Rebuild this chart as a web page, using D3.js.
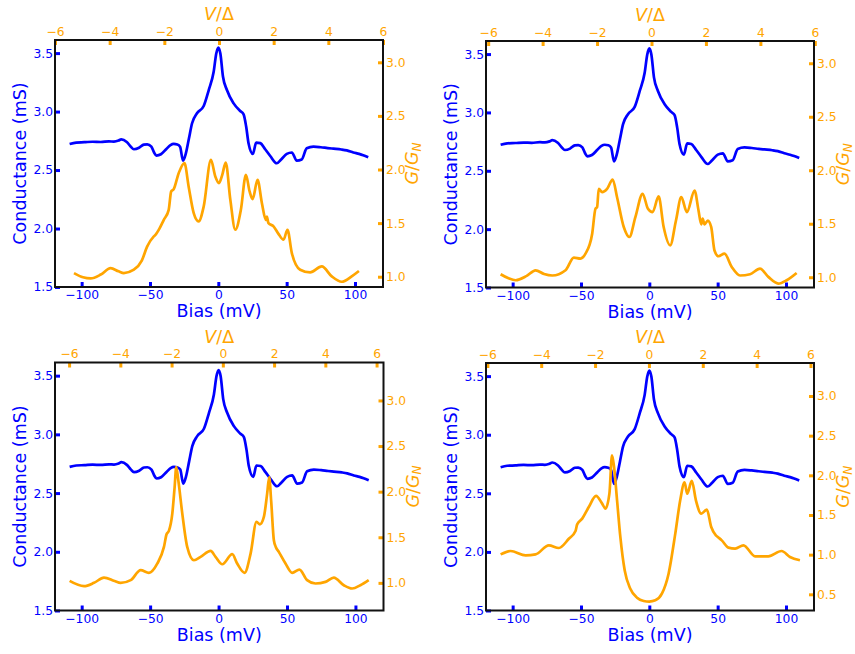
<!DOCTYPE html>
<html><head><meta charset="utf-8">
<script src="https://cdn.jsdelivr.net/npm/d3@7"></script>
<style>
body{margin:0;background:#fff;}
text{font-family:"DejaVu Sans",sans-serif;}
</style></head>
<body><svg id="c" width="855" height="654"></svg>
<script>
// ---------- data ----------
const biasTicks = [-100, -50, 0, 50, 100];
const condTicks = [1.5, 2.0, 2.5, 3.0, 3.5];
const vdTicks = [-6, -4, -2, 0, 2, 4, 6];
const gnTicksTop = [1.0, 1.5, 2.0, 2.5, 3.0];
const gnTicksLow = [1.0, 1.5, 2.0, 2.5, 3.0];
const gnTicksGap = [0.5, 1.0, 1.5, 2.0, 2.5, 3.0];

// measured conductance (mS) vs bias (mV), same in all panels
const blueBias = [-108.8,-104,-98,-92,-86,-80,-76.4,-73,-71,-67,-64,-61.8,-58,-54.5,-52,-49,-47,-45.3,-42,-38,-35,-32.6,-30,-28,-25.8,-23.8,-21.5,-19.2,-15.6,-10.7,-7,-3.4,-1.5,0,1.5,3.4,6.3,11.2,16,18.5,20.4,22.1,25.3,27.7,30.7,34.3,38,42.8,46,50.1,53.8,57.4,61,64.7,69.6,75,80,84.2,90,94,98.8,103,106,109.7];
const blueCond = [2.723,2.735,2.738,2.742,2.740,2.745,2.743,2.752,2.763,2.74,2.70,2.678,2.69,2.718,2.72,2.70,2.65,2.624,2.635,2.68,2.713,2.723,2.718,2.70,2.58,2.64,2.77,2.90,2.985,3.048,3.184,3.34,3.497,3.548,3.497,3.30,3.184,3.07,3.005,2.977,2.87,2.73,2.638,2.735,2.73,2.678,2.62,2.558,2.59,2.638,2.65,2.58,2.59,2.686,2.70,2.695,2.688,2.683,2.676,2.668,2.65,2.638,2.627,2.61];

// normalized conductance G/GN per panel
const orange1Bias = [-105.6,-99,-93.4,-86,-78.8,-73,-69.1,-61.8,-56,-52.1,-47.2,-46,-43,-39.9,-36.3,-34.5,-32.6,-29,-24.8,-21.7,-18,-14.4,-10.7,-5.4,-2.2,0.5,2.9,5.4,8.8,12.4,16.5,20.2,22.9,25.1,28.7,31.9,34.8,35.5,36.7,40.4,44,47.7,50.6,53.8,59.9,67.2,75.7,83,90.3,97.6,102.9];
const orange1G = [1.034,0.995,0.984,1.02,1.08,1.05,1.034,1.065,1.15,1.28,1.376,1.39,1.45,1.53,1.624,1.795,1.817,1.966,2.06,1.84,1.593,1.516,1.655,2.09,1.935,1.873,1.95,2.065,1.717,1.438,1.624,1.95,1.795,1.724,1.904,1.686,1.53,1.56,1.50,1.47,1.40,1.345,1.438,1.22,1.065,1.04,1.096,1.003,0.953,1.003,1.053];

const orange2Bias = [-108.8,-103,-97.8,-90,-83.2,-77,-71,-61.3,-55.2,-50.4,-46.7,-41.8,-39.4,-38.2,-37,-34.5,-30.9,-26.8,-23.6,-18.7,-14.6,-10.2,-4.9,-1,2.4,6.8,10.5,15.3,19.5,23.4,27.5,33.1,36,38,39,40.4,42.8,45.3,47.7,50.6,55,60.3,66.4,73.7,81,87.1,94.4,100.5,107.8];
const orange2G = [1.028,0.99,0.972,1.01,1.065,1.03,1.016,1.065,1.183,1.174,1.22,1.407,1.64,1.655,1.826,1.795,1.826,1.913,1.748,1.469,1.376,1.562,1.78,1.64,1.609,1.755,1.469,1.298,1.53,1.748,1.609,1.81,1.624,1.494,1.547,1.494,1.53,1.469,1.25,1.196,1.22,1.096,1.016,1.028,1.08,1.003,0.941,0.972,1.04];

const orange3Bias = [-108.8,-98.3,-91,-83.7,-76,-71.5,-64.2,-56.9,-50.9,-44.8,-39.9,-38,-36.3,-33.8,-32.1,-30.9,-29.4,-26.5,-22.9,-18,-13.1,-5.8,-2.2,2.7,10,13.6,19,23.4,27.7,30.2,33.1,35.5,37,38.4,40.4,41.8,44,48.9,53.8,59.1,64.7,70.8,78.1,84.2,91.5,97.6,103.6,109.7];
const orange3G = [1.022,0.964,1.0,1.058,1.02,1.0,1.03,1.139,1.11,1.21,1.394,1.533,1.57,1.759,2.05,2.27,2.124,1.759,1.394,1.248,1.285,1.35,1.285,1.204,1.314,1.212,1.11,1.321,1.668,1.642,1.723,1.978,2.16,1.905,1.467,1.394,1.34,1.212,1.11,1.146,1.03,0.993,1.011,1.058,0.974,0.938,0.974,1.03];

const orange4Bias = [-108.8,-101.5,-90.5,-83.2,-73.5,-66.2,-58.9,-54,-52.8,-49.1,-44.3,-39,-34.5,-32.1,-29.2,-27.3,-25.8,-23.6,-21.2,-18,-13.9,-9,-4.1,0,4.4,9.2,14.1,19,22.6,25.8,27.7,31.1,34.1,38,42.1,45.3,48.7,50.1,53,57.9,62.8,68.9,77.4,87.1,96.8,102.9,110.2];
const orange4G = [1.004,1.046,0.992,1.004,1.118,1.084,1.2,1.298,1.382,1.454,1.60,1.74,1.643,1.58,1.769,2.252,2.105,1.685,1.223,0.80,0.571,0.458,0.416,0.408,0.424,0.508,0.76,1.265,1.685,1.912,1.769,1.929,1.685,1.517,1.567,1.349,1.244,1.223,1.18,1.088,1.076,1.118,0.979,0.979,1.046,0.971,0.929];

// ---------- drawing ----------
const BLUE = "#0000ff", ORANGE = "#ffa500";
const svg = d3.select("#c");
const fmt1 = d3.format(".1f");
const fmt0 = d3.format("d");

const panels = [
  {box:[55,383,40,287],   vd:[-6,6],      gn:[0.904,3.208], gnTicks:gnTicksTop, ob:orange1Bias, og:orange1G},
  {box:[486,814,41,287.5],vd:[-6.08,5.97],gn:[0.904,3.208], gnTicks:gnTicksTop, ob:orange2Bias, og:orange2G},
  {box:[55,383.5,362.5,610.5], vd:[-6.55,6.27], gn:[0.697,3.416], gnTicks:gnTicksLow, ob:orange3Bias, og:orange3G},
  {box:[486,814,363,610.5], vd:[-6.05,6.13], gn:[0.296,3.416], gnTicks:gnTicksGap, ob:orange4Bias, og:orange4G}
];

function styleAxis(g, color){
  g.select(".domain").remove();
  g.selectAll(".tick line").attr("stroke", color).attr("stroke-width", 3);
  g.selectAll(".tick text").attr("fill", color).attr("font-size", 12.3)
    .attr("font-family", "DejaVu Sans");
}

panels.forEach(p => {
  const [x0,x1,y0,y1] = p.box;
  const x = d3.scaleLinear().domain([-119.5,120.5]).range([x0,x1]);
  const xt = d3.scaleLinear().domain(p.vd).range([x0,x1]);
  const y = d3.scaleLinear().domain([1.5,3.612]).range([y1,y0]);
  const yr = d3.scaleLinear().domain(p.gn).range([y1,y0]);
  const g = svg.append("g");

  // axes
  const gb = g.append("g").attr("transform",`translate(0,${y1})`)
    .call(d3.axisBottom(x).tickValues(biasTicks).tickFormat(fmt0).tickSizeInner(-5).tickSizeOuter(0).tickPadding(3.5));
  styleAxis(gb, BLUE);
  const gl = g.append("g").attr("transform",`translate(${x0},0)`)
    .call(d3.axisLeft(y).tickValues(condTicks).tickFormat(fmt1).tickSizeInner(-5).tickSizeOuter(0).tickPadding(2));
  styleAxis(gl, BLUE);
  const gt = g.append("g").attr("transform",`translate(0,${y0})`)
    .call(d3.axisTop(xt).tickValues(vdTicks).tickFormat(fmt0).tickSizeInner(-5).tickSizeOuter(0).tickPadding(4.5));
  styleAxis(gt, ORANGE);
  const gr = g.append("g").attr("transform",`translate(${x1},0)`)
    .call(d3.axisRight(yr).tickValues(p.gnTicks).tickFormat(fmt1).tickSizeInner(-5).tickSizeOuter(0).tickPadding(3));
  styleAxis(gr, ORANGE);

  // curves
  const blueData = blueBias.map((b,i)=>[b, blueCond[i]]);
  const orData = p.ob.map((b,i)=>[b, p.og[i]]);
  g.append("path").datum(blueData)
    .attr("d", d3.line().x(d=>x(d[0])).y(d=>y(d[1])).curve(d3.curveMonotoneX))
    .attr("fill","none").attr("stroke",BLUE).attr("stroke-width",2.7).attr("stroke-linejoin","round");
  g.append("path").datum(orData)
    .attr("d", d3.line().x(d=>x(d[0])).y(d=>yr(d[1])).curve(d3.curveMonotoneX))
    .attr("fill","none").attr("stroke",ORANGE).attr("stroke-width",2.7).attr("stroke-linejoin","round");

  // frame
  g.append("rect").attr("x",x0).attr("y",y0).attr("width",x1-x0).attr("height",y1-y0)
    .attr("fill","none").attr("stroke","#111").attr("stroke-width",2);

  // labels
  const cx = (x0+x1)/2, cy = (y0+y1)/2;
  g.append("text").attr("x",cx).attr("y",y1+30).attr("text-anchor","middle")
    .attr("font-size",17.5).attr("fill",BLUE).text("Bias (mV)");
  g.append("text").attr("transform",`translate(${x0-29},${cy}) rotate(-90)`).attr("text-anchor","middle")
    .attr("font-size",17.5).attr("fill",BLUE).text("Conductance (mS)");
  const tl = g.append("text").attr("x",cx).attr("y",y0-20).attr("text-anchor","middle")
    .attr("font-size",17.5).attr("fill",ORANGE);
  tl.append("tspan").attr("font-style","italic").text("V");
  tl.append("tspan").text("/Δ");
  const rl = g.append("text").attr("transform",`translate(${x1+35},${cy}) rotate(-90)`).attr("text-anchor","middle")
    .attr("font-size",17.5).attr("fill",ORANGE);
  rl.append("tspan").attr("font-style","italic").text("G");
  rl.append("tspan").text("/");
  rl.append("tspan").attr("font-style","italic").text("G");
  rl.append("tspan").attr("font-style","italic").attr("font-size",12).attr("dy",2.5).text("N");
});
</script></body></html>
